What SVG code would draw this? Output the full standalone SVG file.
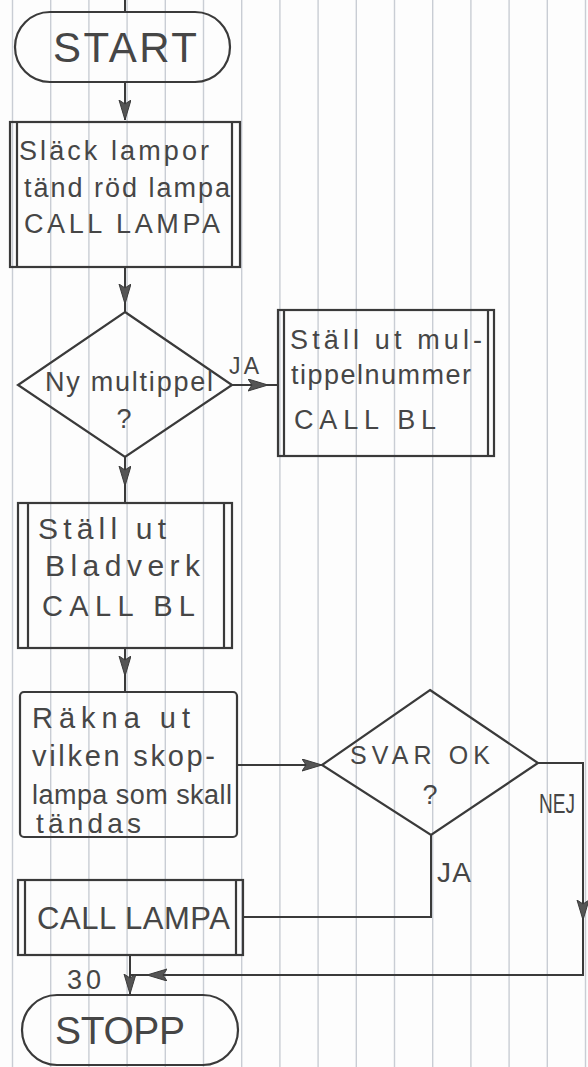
<svg xmlns="http://www.w3.org/2000/svg" width="588" height="1067" viewBox="0 0 588 1067">
<style>
.grid line{stroke:#c9cdd4;stroke-width:1.4}
.shape{fill:none;stroke:#3a3a3a;stroke-width:2.2}
.conn{fill:none;stroke:#3a3a3a;stroke-width:2}
text{font-family:"Liberation Sans","DejaVu Sans",sans-serif;fill:#464646}
.t{font-size:27px}
.lbl{font-size:23px}
.big{font-size:42px}
.mid{text-anchor:middle}
</style>
<defs>
<marker id="arr" markerUnits="userSpaceOnUse" markerWidth="22" markerHeight="14" refX="20" refY="6" orient="auto">
<path d="M0,0 L20,6 L0,12 L4,6 Z" fill="#555" stroke="#3a3a3a" stroke-width="1"/>
</marker>
</defs>
<rect width="588" height="1067" fill="#fdfdfd"/>
<g class="grid">
<line x1="12.5" y1="0" x2="12.5" y2="1067"/>
<line x1="50.7" y1="0" x2="50.7" y2="1067"/>
<line x1="88.9" y1="0" x2="88.9" y2="1067"/>
<line x1="127.1" y1="0" x2="127.1" y2="1067"/>
<line x1="165.3" y1="0" x2="165.3" y2="1067"/>
<line x1="203.5" y1="0" x2="203.5" y2="1067"/>
<line x1="241.7" y1="0" x2="241.7" y2="1067"/>
<line x1="279.9" y1="0" x2="279.9" y2="1067"/>
<line x1="318.1" y1="0" x2="318.1" y2="1067"/>
<line x1="356.3" y1="0" x2="356.3" y2="1067"/>
<line x1="394.5" y1="0" x2="394.5" y2="1067"/>
<line x1="432.7" y1="0" x2="432.7" y2="1067"/>
<line x1="470.9" y1="0" x2="470.9" y2="1067"/>
<line x1="509.1" y1="0" x2="509.1" y2="1067"/>
<line x1="547.3" y1="0" x2="547.3" y2="1067"/>
<line x1="585.5" y1="0" x2="585.5" y2="1067"/>
</g>

<g id="connectors">
<path class="conn" d="M125,0 V12"/>
<path class="conn" d="M125,82 V120" marker-end="url(#arr)"/>
<path class="conn" d="M125,267 V304" marker-end="url(#arr)"/>
<path class="conn" d="M125,312 V304"/>
<path class="conn" d="M232,385 H268" marker-end="url(#arr)"/>
<path class="conn" d="M268,385 H278"/>
<path class="conn" d="M125,457 V486" marker-end="url(#arr)"/>
<path class="conn" d="M125,486 V503"/>
<path class="conn" d="M125,648 V676" marker-end="url(#arr)"/>
<path class="conn" d="M125,676 V692"/>
<path class="conn" d="M237,765 H322" marker-end="url(#arr)"/>
<path class="conn" d="M538,763 H583 V920" marker-end="url(#arr)"/>
<path class="conn" d="M583,920 V975 H147" marker-end="url(#arr)"/>
<path class="conn" d="M147,975 H130"/>
<path class="conn" d="M431,835 V917 H243"/>
<path class="conn" d="M130,955 V994" marker-end="url(#arr)"/>
<text class="lbl" x="229" y="374" textLength="30">JA</text>
<text x="539" y="813" font-size="27" textLength="36" lengthAdjust="spacingAndGlyphs">NEJ</text>
<text x="437" y="882" font-size="28" textLength="34">JA</text>
<text x="67" y="989" font-size="27" textLength="34">30</text>
</g>

<g id="start">
<rect class="shape" x="15" y="12" width="215" height="70" rx="35"/>
<text class="big" x="53" y="62" textLength="144">START</text>
</g>

<g id="box1">
<rect class="shape" x="10" y="122" width="230" height="145"/>
<line class="shape" x1="17" y1="122" x2="17" y2="267"/>
<line class="shape" x1="232" y1="122" x2="232" y2="267"/>
<text class="t" x="19" y="160" textLength="190">Släck lampor</text>
<text class="t" x="24" y="197" textLength="206">tänd röd lampa</text>
<text class="t" x="24" y="233" textLength="196">CALL LAMPA</text>
</g>

<g id="decision1">
<polygon class="shape" points="125,312 232,385 125,457 18,385"/>
<text class="t" x="45" y="391" textLength="168">Ny multippel</text>
<text class="t mid" x="124" y="428">?</text>
</g>

<g id="box2">
<rect class="shape" x="278" y="310" width="216" height="146"/>
<line class="shape" x1="284" y1="310" x2="284" y2="456"/>
<line class="shape" x1="488" y1="310" x2="488" y2="456"/>
<text class="t" x="290" y="349" textLength="192">Ställ ut mul-</text>
<text class="t" x="291" y="384" textLength="180">tippelnummer</text>
<text class="t" x="294" y="429" textLength="142">CALL BL</text>
</g>

<g id="box3">
<rect class="shape" x="18" y="503" width="214" height="145"/>
<line class="shape" x1="28" y1="503" x2="28" y2="648"/>
<line class="shape" x1="224" y1="503" x2="224" y2="648"/>
<text x="38" y="539" font-size="30" textLength="128">Ställ ut</text>
<text x="45" y="576" font-size="30" textLength="155">Bladverk</text>
<text x="42" y="616" font-size="29" textLength="153">CALL BL</text>
</g>

<g id="box4">
<rect class="shape" x="20" y="692" width="217" height="145" rx="4"/>
<text x="32" y="728" font-size="29" textLength="158">Räkna ut</text>
<text x="32" y="766" font-size="29" textLength="183">vilken skop-</text>
<text class="t" x="32" y="804" textLength="200">lampa som skall</text>
<text x="36" y="833" font-size="28" textLength="105">tändas</text>
</g>

<g id="decision2">
<polygon class="shape" points="430,690 538,763 431,835 322,765"/>
<text x="350" y="764" font-size="25" textLength="140">SVAR OK</text>
<text class="t mid" x="430" y="804">?</text>
</g>

<g id="box5">
<rect class="shape" x="18" y="880" width="225" height="75"/>
<line class="shape" x1="25" y1="880" x2="25" y2="955"/>
<line class="shape" x1="236" y1="880" x2="236" y2="955"/>
<text x="37" y="929" font-size="31" textLength="193">CALL LAMPA</text>
</g>

<g id="stop">
<rect class="shape" x="22" y="995" width="216" height="70" rx="35"/>
<text x="55" y="1044" font-size="39" textLength="130">STOPP</text>
</g>
</svg>
